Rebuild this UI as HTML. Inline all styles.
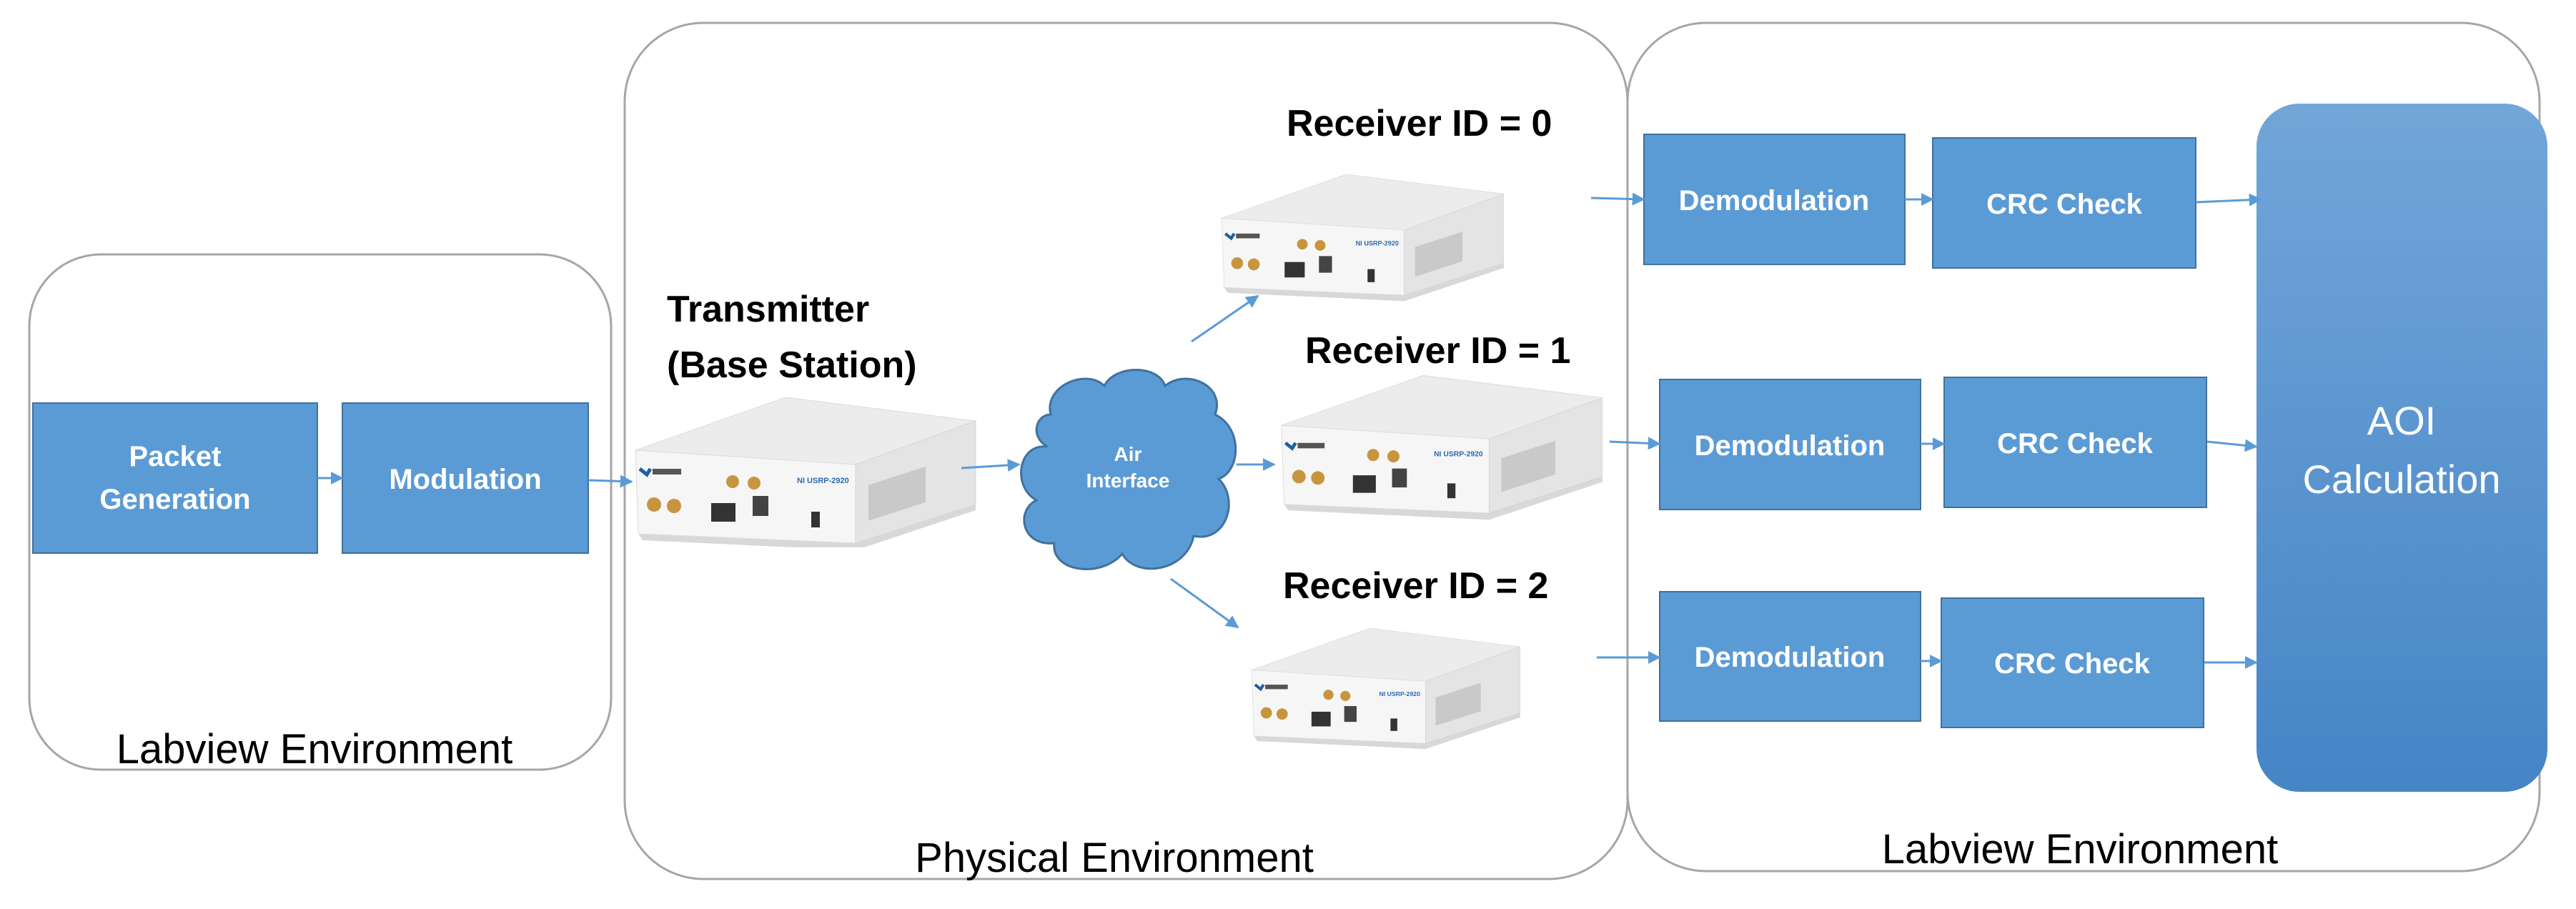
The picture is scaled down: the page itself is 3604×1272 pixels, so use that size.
<!DOCTYPE html>
<html><head><meta charset="utf-8"><style>
body{margin:0;background:#fff;}
svg{display:block;font-family:"Liberation Sans",sans-serif;}
</style></head><body>
<svg width="3604" height="1272" viewBox="0 0 3604 1272" xmlns="http://www.w3.org/2000/svg">
<defs>
<linearGradient id="aoi" x1="0" y1="0" x2="0" y2="1"><stop offset="0" stop-color="#72a6d9"/><stop offset="1" stop-color="#4585c6"/></linearGradient>
<marker id="ah" viewBox="0 0 10 10" refX="9" refY="5" markerWidth="6" markerHeight="6" orient="auto"><path d="M0,0L10,5L0,10z" fill="#5b9bd5"/></marker>
<symbol id="dev" viewBox="0 0 480 210">
<polygon points="14,200 312,214 480,158 480,150 312,204 8,191" fill="#d8d8d8"/>
<polygon points="4,74 214,0 480,33 312,94" fill="#ececec" stroke="#dcdcdc"/>
<polygon points="4,74 312,94 312,204 8,191" fill="#f6f6f6" stroke="#dddddd"/>
<polygon points="312,94 480,33 480,150 312,204" fill="#e4e4e4" stroke="#d6d6d6"/>
<g fill="#c9c9c9"><rect x="330" y="120" width="80" height="50" transform="skewY(-18) translate(0,110)"/></g>
<path d="M10,100l10,8l5,-8" stroke="#1f5fa0" stroke-width="5" fill="none"/>
<rect x="28" y="100" width="40" height="8" fill="#555"/>
<circle cx="140" cy="118" r="9" fill="#c8953e"/><circle cx="170" cy="120" r="9" fill="#c8953e"/>
<circle cx="30" cy="150" r="10" fill="#c8953e"/><circle cx="58" cy="152" r="10" fill="#c8953e"/>
<rect x="110" y="148" width="34" height="26" fill="#333"/>
<rect x="168" y="138" width="22" height="28" fill="#444"/>
<rect x="250" y="160" width="12" height="22" fill="#333"/>
<text x="230" y="120" font-size="11" fill="#2a6ab0" font-weight="bold">NI USRP-2920</text>
</symbol>
</defs>

<rect x="41" y="356" width="814" height="721" rx="100" fill="none" stroke="#a6a6a6" stroke-width="3"/>
<rect x="874" y="32" width="1403" height="1198" rx="110" fill="none" stroke="#a6a6a6" stroke-width="3"/>
<rect x="2277" y="32" width="1276" height="1187" rx="110" fill="none" stroke="#a6a6a6" stroke-width="3"/>

<g fill="#5b9bd5" stroke="#41719c" stroke-width="2">
<rect x="46" y="564" width="398" height="210"/>
<rect x="479" y="564" width="344" height="210"/>
<rect x="2300" y="188" width="365" height="182"/>
<rect x="2704" y="193" width="368" height="182"/>
<rect x="2322" y="531" width="365" height="182"/>
<rect x="2720" y="528" width="367" height="182"/>
<rect x="2322" y="828" width="365" height="181"/>
<rect x="2716" y="837" width="367" height="181"/>
</g>
<rect x="3157" y="145" width="407" height="963" rx="60" fill="url(#aoi)"/>

<g fill="#fff" font-weight="bold" font-size="40" text-anchor="middle">
<text x="245" y="652">Packet</text>
<text x="245" y="712">Generation</text>
<text x="651" y="684">Modulation</text>
<text x="2482" y="294">Demodulation</text>
<text x="2888" y="299">CRC Check</text>
<text x="2504" y="637">Demodulation</text>
<text x="2903" y="634">CRC Check</text>
<text x="2504" y="933">Demodulation</text>
<text x="2899" y="942">CRC Check</text>
</g>
<g fill="#fff" font-size="56" text-anchor="middle">
<text x="3360" y="608">AOI</text>
<text x="3360" y="690">Calculation</text>
</g>

<use href="#dev" x="884" y="556" width="482" height="210"/>
<use href="#dev" x="1706" y="228" width="398" height="206"/>
<use href="#dev" x="1789" y="516" width="453" height="217"/>
<use href="#dev" x="1748" y="853" width="379" height="218"/>

<path d="M1470,580 C1460,540 1520,515 1545,540 C1560,510 1620,510 1630,540 C1660,515 1715,540 1700,580 C1740,600 1735,660 1705,670 C1735,700 1715,760 1670,750 C1660,800 1590,810 1570,775 C1540,810 1470,800 1475,760 C1430,765 1420,715 1450,700 C1415,680 1425,620 1465,625 C1440,610 1450,580 1470,580 Z" fill="#5b9bd5" stroke="#41719c" stroke-width="3"/>
<g fill="#fff" font-weight="bold" font-size="28" text-anchor="middle">
<text x="1578" y="645">Air</text>
<text x="1578" y="682">Interface</text>
</g>

<g font-weight="bold" font-size="52" fill="#000">
<text x="933" y="450">Transmitter</text>
<text x="933" y="528">(Base Station)</text>
<text x="1800" y="190">Receiver ID = 0</text>
<text x="1826" y="508">Receiver ID = 1</text>
<text x="1795" y="837">Receiver ID = 2</text>
</g>
<g font-size="58" fill="#000" text-anchor="middle">
<text x="440" y="1068">Labview Environment</text>
<text x="1559" y="1220">Physical Environment</text>
<text x="2910" y="1208">Labview Environment</text>
</g>

<g stroke="#5b9bd5" stroke-width="3" fill="none" marker-end="url(#ah)">
<line x1="444" y1="669" x2="479" y2="669"/>
<line x1="823" y1="672" x2="884" y2="674"/>
<line x1="1345" y1="655" x2="1426" y2="650"/>
<line x1="1667" y1="478" x2="1760" y2="414"/>
<line x1="1730" y1="650" x2="1783" y2="650"/>
<line x1="1638" y1="810" x2="1732" y2="878"/>
<line x1="2226" y1="277" x2="2300" y2="279"/>
<line x1="2665" y1="279" x2="2704" y2="279"/>
<line x1="3072" y1="283" x2="3163" y2="279"/>
<line x1="2252" y1="618" x2="2322" y2="621"/>
<line x1="2687" y1="621" x2="2720" y2="621"/>
<line x1="3088" y1="618" x2="3157" y2="625"/>
<line x1="2234" y1="920" x2="2322" y2="920"/>
<line x1="2687" y1="925" x2="2716" y2="925"/>
<line x1="3084" y1="927" x2="3157" y2="927"/>
</g>
</svg>
</body></html>
